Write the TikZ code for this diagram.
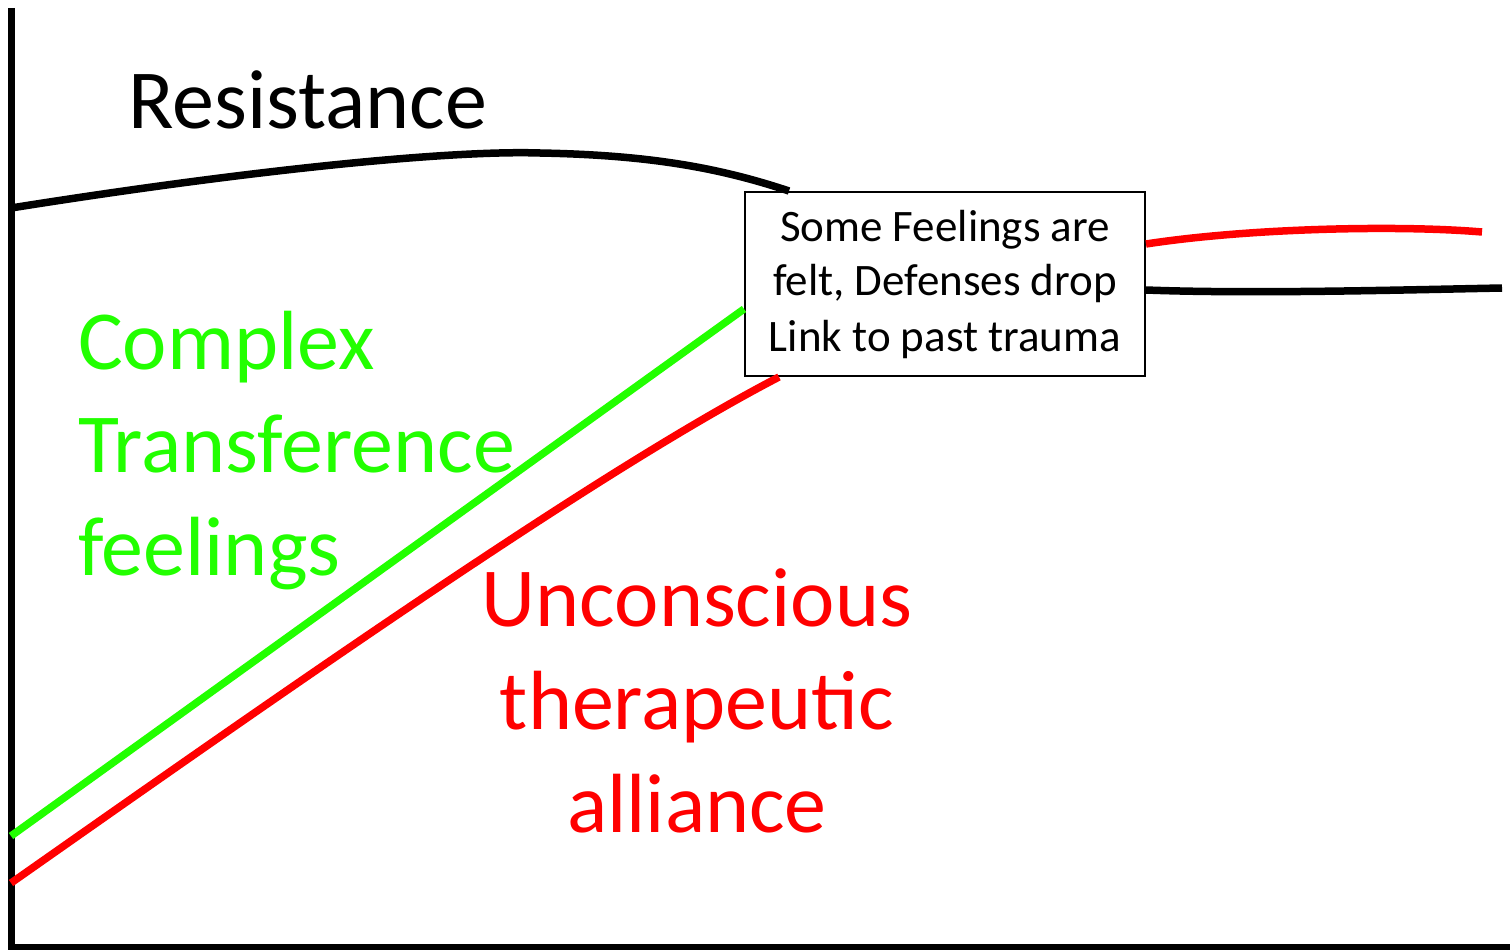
\documentclass[tikz,border=0pt]{standalone}
\usepackage{fontspec}
\setmainfont{Carlito}
\usetikzlibrary{calc}
\definecolor{lgreen}{HTML}{22FF00}
\definecolor{lred}{HTML}{FF0000}
\begin{document}
\begin{tikzpicture}[x=1pt,y=-1pt,
  curve/.style={line width=7.5pt},
  big/.style={font=\fontsize{84}{103}\selectfont, inner sep=0pt},
  infobox/.style={draw, line width=2pt, fill=white, minimum width=400pt, minimum height=184pt, align=center, font=\fontsize{45}{55}\selectfont, inner sep=0pt}]
\useasboundingbox (0,0) rectangle (1510,950);
% axes
\coordinate (top) at (11,8);
\coordinate (origin) at (11,947);
\coordinate (xend) at (1510,947);
\draw[line width=7pt] (top) -- (origin) -- (xend);
% box
\node[infobox] (box) at (945,284) {Some Feelings are\\felt, Defenses drop\\Link to past trauma};
% resistance
\coordinate (r0) at (11,208);
\draw[curve] (r0) .. controls (250,170) and (450,150) .. (540,153) .. controls (650,155) and (720,168) .. ($(box.north west)+(45,0)$);
% green and red lines
\coordinate (g0) at (11,836);
\coordinate (d0) at (11,883);
\draw[curve, lgreen] (g0) -- ($(box.north west)+(0,118)$);
\draw[curve, lred] (d0) .. controls (300,680) and (600,470) .. ($(box.south west)+(35,0)$);
% right side
\coordinate (re) at (1482,232);
\coordinate (be) at (1502,288);
\draw[curve, lred] ($(box.north east)+(0,53)$) .. controls (1250,228) and (1400,225) .. (re);
\draw[curve] ($(box.north east)+(0,99)$) .. controls (1250,294) and (1400,290) .. (be);
% labels
\node[big, anchor=base west] (res) at (128,128) {Resistance};
\node[big, anchor=base west, align=left, text=lgreen] (ctf) at (78,575) {Complex\\Transference\\feelings};
\node[big, anchor=base, align=center, text=lred] (uta) at (697,832) {Unconscious\\therapeutic\\alliance};
\end{tikzpicture}
\end{document}
